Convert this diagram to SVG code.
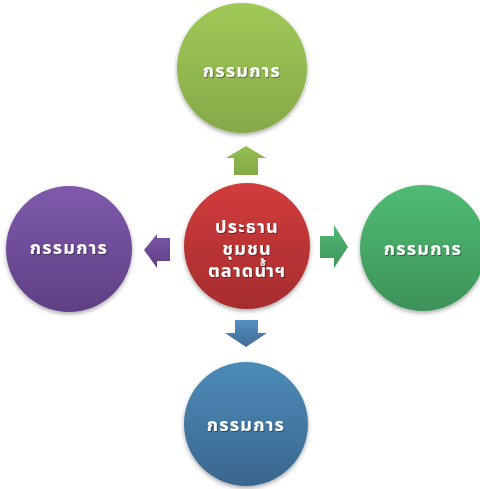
<svg xmlns="http://www.w3.org/2000/svg" width="480" height="489" viewBox="0 0 480 489">
<defs>
<linearGradient id="gTop" x1="0" y1="0" x2="0" y2="1"><stop offset="0" stop-color="#a0c956"/><stop offset="1" stop-color="#86a84a"/></linearGradient>
<linearGradient id="gCenter" x1="0" y1="0" x2="0" y2="1"><stop offset="0" stop-color="#d23c3c"/><stop offset="1" stop-color="#a52c2e"/></linearGradient>
<linearGradient id="gLeft" x1="0" y1="0" x2="0" y2="1"><stop offset="0" stop-color="#7f5aab"/><stop offset="1" stop-color="#5e3f84"/></linearGradient>
<linearGradient id="gRight" x1="0" y1="0" x2="0" y2="1"><stop offset="0" stop-color="#4fbc74"/><stop offset="1" stop-color="#3d9258"/></linearGradient>
<linearGradient id="gBottom" x1="0" y1="0" x2="0" y2="1"><stop offset="0" stop-color="#4d8cb8"/><stop offset="1" stop-color="#39668e"/></linearGradient>
<linearGradient id="aUp" x1="0" y1="0" x2="0" y2="1"><stop offset="0" stop-color="#95bf50"/><stop offset="1" stop-color="#83a847"/></linearGradient>
<linearGradient id="aDown" x1="0" y1="0" x2="0" y2="1"><stop offset="0" stop-color="#5690c0"/><stop offset="1" stop-color="#3e6b95"/></linearGradient>
<linearGradient id="aLeft" x1="0" y1="0" x2="0" y2="1"><stop offset="0" stop-color="#7a56a6"/><stop offset="1" stop-color="#5f4085"/></linearGradient>
<linearGradient id="aRight" x1="0" y1="0" x2="0" y2="1"><stop offset="0" stop-color="#52b874"/><stop offset="1" stop-color="#3f955b"/></linearGradient>
<filter id="sh" x="-20%" y="-20%" width="140%" height="150%"><feDropShadow dx="0" dy="2" stdDeviation="2" flood-color="#000" flood-opacity="0.35"/></filter>
<filter id="tsh" x="-10%" y="-30%" width="120%" height="160%"><feDropShadow dx="1" dy="1" stdDeviation="0.5" flood-color="#000" flood-opacity="0.4"/></filter>
</defs>
<style>
.lbl{font-family:"Noto Sans Thai","Noto Sans","Liberation Sans",sans-serif;font-size:18px;font-weight:bold;letter-spacing:1.2px;fill:#ffffff;text-anchor:middle;dominant-baseline:central;filter:url(#tsh)}
.circ{filter:url(#sh)}
</style>
<g id="connectors">
<path d="M234,175 V158 H226 L246,146 L266,158 H258 V175 Z" fill="url(#aUp)"/>
<path d="M235,320 H258 V333 H267 L246,347 L225,333 H235 Z" fill="url(#aDown)"/>
<path d="M170,238 V261 H157 V268 L144,250 L157,234 V238 Z" fill="url(#aLeft)"/>
<path d="M320,236 H334 V225 L348,247 L334,268 V258 H320 Z" fill="url(#aRight)"/>
</g>
<g id="node-top">
<circle class="circ" cx="242" cy="68" r="65" fill="url(#gTop)"/>
<text class="lbl" x="242" y="71">กรรมการ</text>
</g>
<g id="node-center">
<circle class="circ" cx="247" cy="246" r="63" fill="url(#gCenter)"/>
<text class="lbl"><tspan x="247" y="227">ประธาน</tspan><tspan x="247" y="249">ชุมชน</tspan><tspan x="247" y="271">ตลาดน้ำฯ</tspan></text>
</g>
<g id="node-left">
<circle class="circ" cx="69" cy="249" r="63" fill="url(#gLeft)"/>
<text class="lbl" x="69" y="248">กรรมการ</text>
</g>
<g id="node-right">
<circle class="circ" cx="423" cy="248" r="63" fill="url(#gRight)"/>
<text class="lbl" x="423" y="249">กรรมการ</text>
</g>
<g id="node-bottom">
<circle class="circ" cx="246" cy="424" r="62" fill="url(#gBottom)"/>
<text class="lbl" x="246" y="425">กรรมการ</text>
</g>
</svg>
